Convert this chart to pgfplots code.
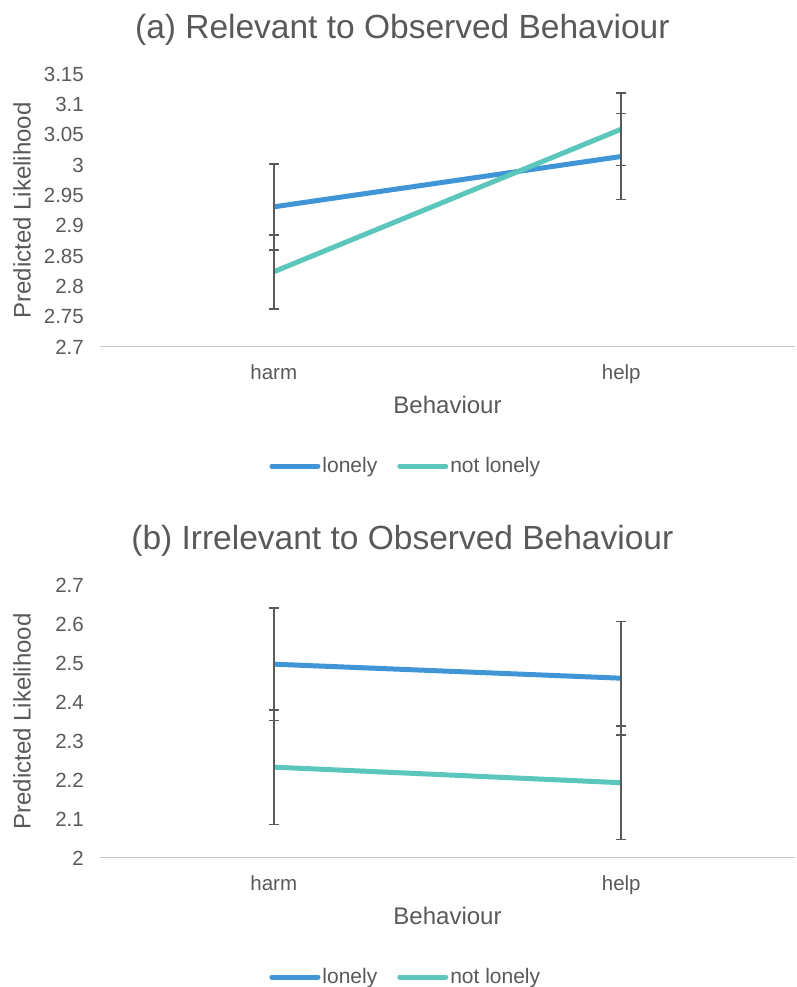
\documentclass[border=0pt]{standalone}
\usepackage{pgfplots}
\pgfplotsset{compat=1.18}
\usepackage{fontspec}
\setmainfont{Liberation Sans}
\definecolor{lonelyc}{HTML}{3F95D5}
\definecolor{notlonelyc}{HTML}{5BC7BC}
\definecolor{txt}{HTML}{595959}
\definecolor{errc}{HTML}{5A5A5A}
\definecolor{axc}{HTML}{C8C8C8}
\pgfplotsset{
  panel/.style={
    scale only axis, width=695pt, height=273pt,
    xmin=-0.5, xmax=1.5,
    xtick={0,1}, xticklabels={harm,help},
    axis x line*=bottom, axis y line*=left,
    x axis line style={axc, line width=1pt, -},
    y axis line style={draw=none},
    major tick length=0pt,
    ytick style={draw=none}, xtick style={draw=none},
    /pgf/number format/assume math mode=true,
    ticklabel style={font=\fontsize{20.5}{24}\selectfont, text=txt},
    yticklabel style={anchor=east, inner xsep=0pt, xshift=-16pt},
    xticklabel style={anchor=base, yshift=-32.5pt},
    xlabel={Behaviour},
    xlabel style={at={(axis description cs:0.5,-0.212)}, anchor=center, font=\fontsize{24}{28}\selectfont, text=txt},
    ylabel={Predicted Likelihood},
    ylabel style={at={(axis description cs:-0.112,0.5)}, anchor=center, font=\fontsize{24}{28}\selectfont, text=txt},
    title style={at={(axis description cs:0.435,1.139)}, anchor=center, font=\fontsize{33.5}{38}\selectfont, text=txt},
    legend style={at={(axis description cs:0.44,-0.436)}, anchor=center, draw=none, font=\fontsize{21}{25}\selectfont, text=txt, legend columns=2, /tikz/every even column/.append style={column sep=18pt}},
    legend image code/.code={\draw[line width=5pt, line cap=round] (0pt,0pt) -- (46pt,0pt);},
    clip=false,
  },
  serie/.style={line width=5pt, mark=none,
    error bars/y dir=both, error bars/y explicit,
    error bars/error bar style={errc, line width=1.6pt},
    error bars/error mark options={errc, line width=1.6pt, rotate=90, mark size=5pt}},
}
\begin{document}
\begin{tikzpicture}
\useasboundingbox (0pt,0pt) rectangle (796pt,987pt);
\begin{axis}[panel, at={(100pt,640pt)}, anchor=south west,
  ymin=2.7, ymax=3.15, ytick={2.7,2.75,...,3.16},
  yticklabels={2.7,2.75,2.8,2.85,2.9,2.95,3,3.05,3.1,3.15},
  title={(a) Relevant to Observed Behaviour}]
\addplot[lonelyc, serie] coordinates {(0,2.931) +- (0,0.071) (1,3.014) +- (0,0.071)};
\addlegendentry{lonely}
\addplot[notlonelyc, serie] coordinates {(0,2.824) +- (0,0.061) (1,3.059) +- (0,0.060)};
\addlegendentry{not lonely}
\end{axis}
\begin{axis}[panel, at={(100pt,129pt)}, anchor=south west,
  ymin=2, ymax=2.7, ytick={2,2.1,...,2.71},
  yticklabels={2,2.1,2.2,2.3,2.4,2.5,2.6,2.7},
  title={(b) Irrelevant to Observed Behaviour}]
\addplot[lonelyc, serie] coordinates {(0,2.497) +- (0,0.144) (1,2.461) +- (0,0.145)};
\addlegendentry{lonely}
\addplot[notlonelyc, serie] coordinates {(0,2.233) +- (0,0.147) (1,2.193) +- (0,0.146)};
\addlegendentry{not lonely}
\end{axis}
\end{tikzpicture}
\end{document}
